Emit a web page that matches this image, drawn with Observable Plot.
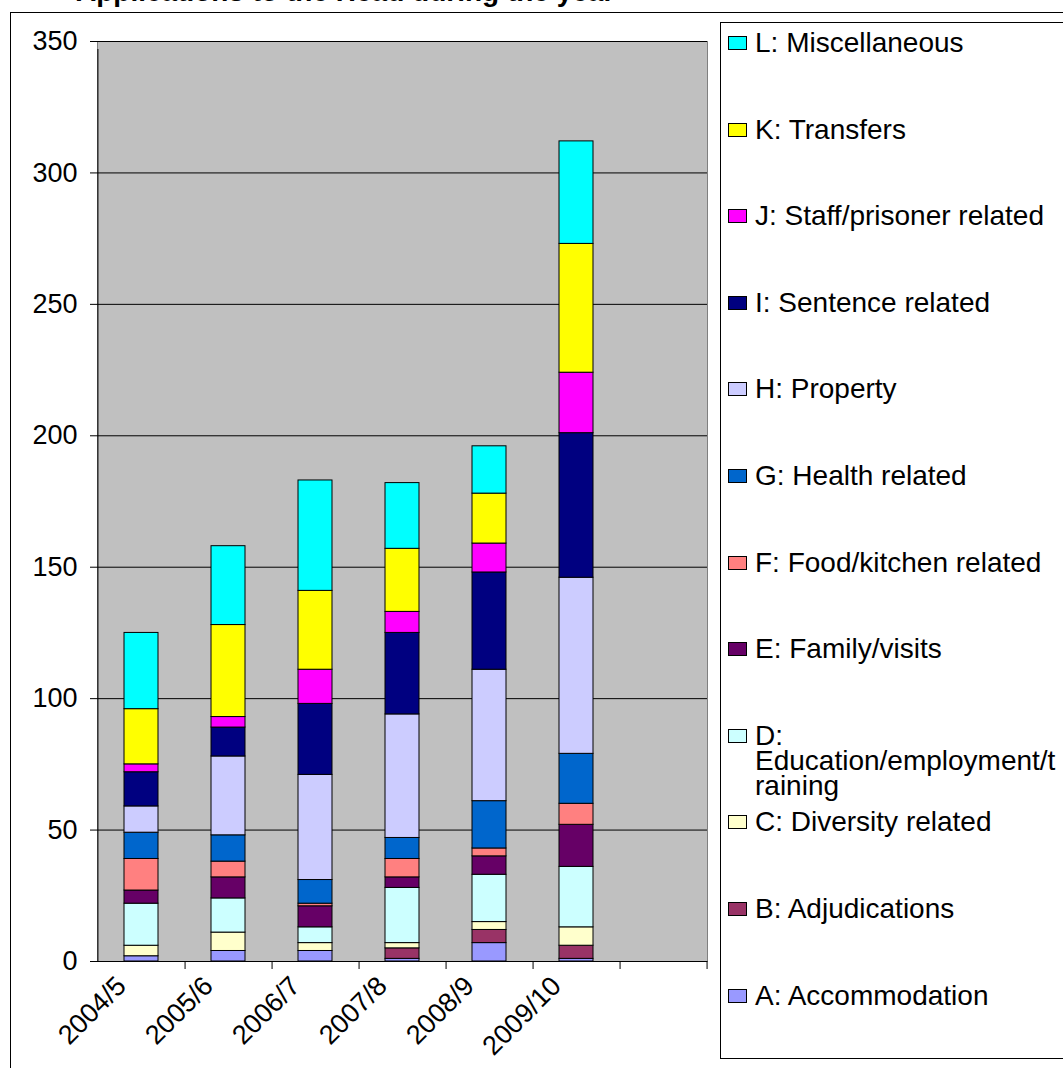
<!DOCTYPE html>
<html><head><meta charset="utf-8">
<script src="https://cdn.jsdelivr.net/npm/d3@7"></script>
<script src="https://cdn.jsdelivr.net/npm/@observablehq/plot@0.6"></script>
<style>
body{margin:0;background:#fff;font-family:"Liberation Sans",Arial,sans-serif;}
#wrap{position:relative;width:1063px;height:1068px;overflow:hidden;background:#fff;}
#chartbox{position:absolute;left:10px;top:12px;width:1200px;height:1200px;border-left:1px solid #000;border-top:1px solid #000;}
#title{position:absolute;left:76px;top:-24px;font-weight:bold;font-size:28px;line-height:32px;white-space:nowrap;z-index:3;}
#plot{position:absolute;left:0;top:0;z-index:1;}
#legend{position:absolute;left:720px;top:22px;width:400px;height:1035px;border:1px solid #000;background:#fff;z-index:2;}
.sw{position:absolute;left:7px;width:17px;height:12px;border:1px solid #000;}
.lt{position:absolute;left:34px;font-size:28px;line-height:25px;white-space:pre;color:#000;}
</style></head>
<body>
<div id="wrap">
  <div id="chartbox"></div>
  <div id="title">Applications to the Head during the year</div>
  <div id="plot"></div>
  <div id="legend"></div>
</div>
<script>
// ---- data ----
const years = ["2004/5","2005/6","2006/7","2007/8","2008/9","2009/10"];
const categories = ["A: Accommodation","B: Adjudications","C: Diversity related","D: Education/employment/training","E: Family/visits","F: Food/kitchen related","G: Health related","H: Property","I: Sentence related","J: Staff/prisoner related","K: Transfers","L: Miscellaneous"];
const colors = ["#9999FF","#993366","#FFFFCC","#CCFFFF","#660066","#FF8080","#0066CC","#CCCCFF","#000080","#FF00FF","#FFFF00","#00FFFF"];
const accommodation = [2,4,4,1,7,1];
const adjudications = [0,0,0,4,5,5];
const diversity     = [4,7,3,2,3,7];
const education     = [16,13,6,21,18,23];
const family        = [5,8,8,4,7,16];
const food          = [12,6,1,7,3,8];
const health        = [10,10,9,8,18,19];
const property      = [10,30,40,47,50,67];
const sentence      = [13,11,27,31,37,55];
const staff         = [3,4,13,8,11,23];
const transfers     = [21,35,30,24,19,49];
const misc          = [29,30,42,25,18,39];
const yTicks = [0,50,100,150,200,250,300,350];

const series = [accommodation,adjudications,diversity,education,family,food,health,property,sentence,staff,transfers,misc];
const rows = [];
series.forEach((vals, ci) => vals.forEach((v, yi) => rows.push({year: years[yi], category: categories[ci], value: v})));

// ---- layout ----
const W = 1063, H = 1068;
const plotLeft = 97, plotRight = 707, plotTop = 41, plotBottom = 961;
const xDomain = [...years, ""];
const step = (plotRight - plotLeft) / xDomain.length;

const chart = Plot.plot({
  width: W, height: H,
  marginLeft: plotLeft, marginRight: W - plotRight, marginTop: plotTop, marginBottom: H - plotBottom,
  style: {background: "transparent", fontFamily: "Liberation Sans, Arial, sans-serif", fontSize: "27px", color: "#000", overflow: "visible"},
  x: {domain: xDomain, paddingInner: 0.61, paddingOuter: 0.305, align: 0.5},
  y: {domain: [0, 350]},
  color: {domain: categories, range: colors},
  marks: [
    Plot.frame({fill: "#C0C0C0", stroke: "#808080"}),
    Plot.ruleY(yTicks, {stroke: "#000", strokeWidth: 1}),
    Plot.barY(rows, {x: "year", y: "value", fill: "category", stroke: "#000", strokeWidth: 1, order: categories}),
    Plot.axisY({ticks: yTicks, tickSize: 7, tickPadding: 13, fontSize: 27, label: null, stroke: "#000"}),
    Plot.axisX({tickSize: 0, tickRotate: -45, tickPadding: 20, dx: -20, fontSize: 27, label: null, tickFormat: d => d}),
    Plot.ruleX(xDomain, {x: d => d, dx: step / 2, y1: 0, y2: 0, insetBottom: -8, stroke: "#000"}),
    Plot.ruleX([years[0]], {x: d => d, dx: -step / 2, y1: 0, y2: 350, insetBottom: -8, stroke: "#000"}),
    Plot.ruleY([0], {stroke: "#000"})
  ]
});
document.getElementById("plot").appendChild(chart);

// ---- legend (Excel-like wrapping) ----
const legend = document.getElementById("legend");
const canvas = document.createElement("canvas").getContext("2d");
canvas.font = '28px "Liberation Sans", Arial, sans-serif';
const maxW = 306;
function wrap(text) {
  const words = text.split(" ");
  const lines = [];
  let cur = "";
  for (const w of words) {
    const test = cur ? cur + " " + w : w;
    if (canvas.measureText(test).width <= maxW) { cur = test; continue; }
    if (cur) { lines.push(cur); cur = ""; }
    if (canvas.measureText(w).width <= maxW) { cur = w; continue; }
    let part = "";
    for (const ch of w) {
      if (canvas.measureText(part + ch).width > maxW) { lines.push(part); part = ch; }
      else part += ch;
    }
    cur = part;
  }
  if (cur) lines.push(cur);
  return lines.join("\n");
}
const legendOrder = categories.map((c, i) => i).reverse();
const firstCenter = 42 - 22, spacing = 86.6;
legendOrder.forEach((ci, k) => {
  const cy = firstCenter + k * spacing;
  const sw = document.createElement("div");
  sw.className = "sw";
  sw.style.top = (cy - 7) + "px";
  sw.style.background = colors[ci];
  legend.appendChild(sw);
  const t = document.createElement("div");
  t.className = "lt";
  t.style.top = (cy - 13) + "px";
  t.textContent = wrap(categories[ci]);
  legend.appendChild(t);
});
</script>
</body></html>
